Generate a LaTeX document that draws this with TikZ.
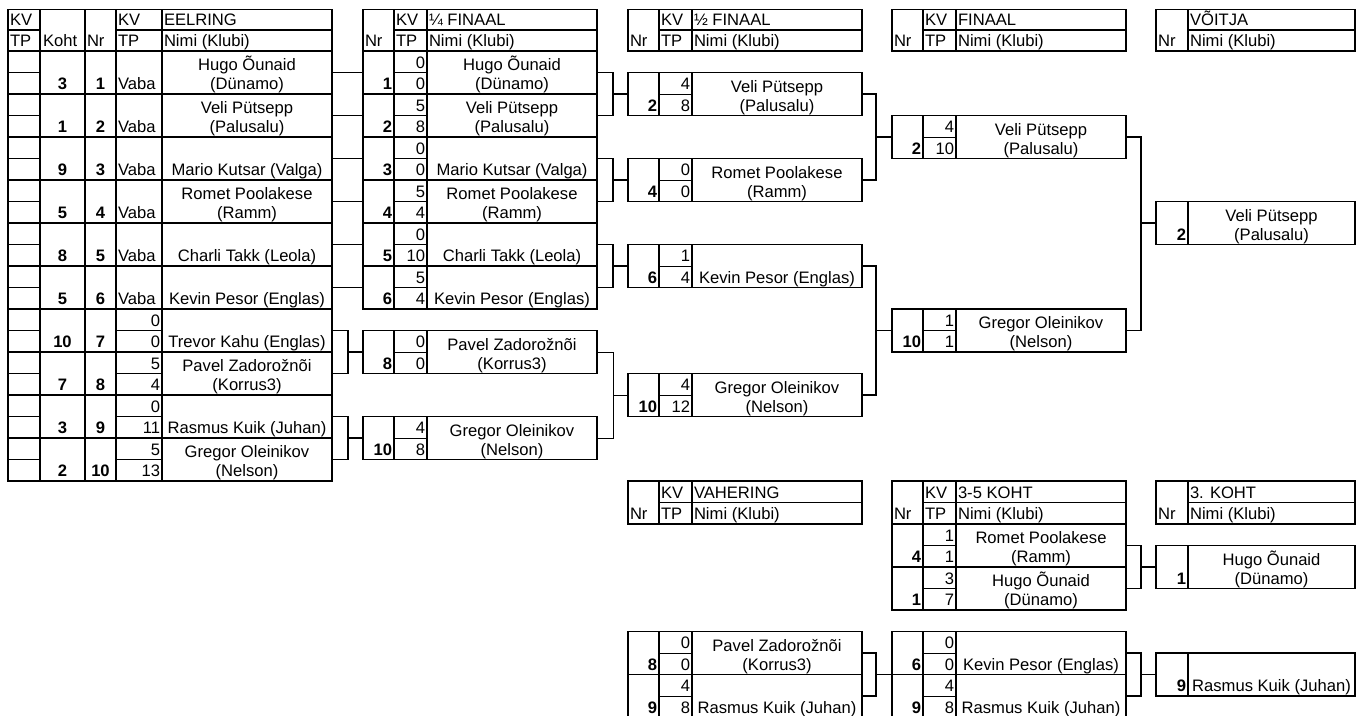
\documentclass[tikz,border=0pt]{standalone}
\usepackage{fontspec}
\setmainfont{Liberation Sans}
\newcommand{\fs}{\fontsize{16.6}{19}\selectfont}
\tikzset{
  box/.style={draw, line width=1.6pt, inner sep=0pt, outer sep=0pt, rectangle},
  bold line/.style={line width=1.6pt},
  fine line/.style={line width=0.8pt},
  txt/.style={inner sep=0pt, outer sep=0pt, anchor=base, font=\fs},
  lt/.style={txt, anchor=base west},
  rt/.style={txt, anchor=base east},
  num/.style={txt, font=\fs\bfseries},
  numr/.style={rt, font=\fs\bfseries},
  link/.style={line width=1.6pt},
  thinlink/.style={line width=0.9pt},
}
% name text, bottom aligned
\newcommand{\nametext}[5]{%
  \if\relax\detokenize{#5}\relax
    \node[txt] (#1-n) at (#2,#3-4.5) {#4};
  \else
    \node[txt] (#1-n1) at (#2,#3-23.5) {#4};
    \node[txt] (#1-n2) at (#2,#3-4.5) {#5};
  \fi}
% Nr | KV/TP | name entry
\newcommand{\fourentry}[8]{%
  \pgfmathsetmacro{\xa}{#2}\pgfmathsetmacro{\xb}{#2+31}%
  \pgfmathsetmacro{\xc}{#2+64}\pgfmathsetmacro{\xn}{#2+149}%
  \pgfmathsetmacro{\yt}{51+21.5*#3}\pgfmathsetmacro{\ym}{\yt+21.5}\pgfmathsetmacro{\yb}{\yt+43}%
  \node[box, minimum width=234pt, minimum height=43pt, anchor=north west] (#1) at (\xa,\yt) {};
  \draw[bold line] (\xb,\yt) -- (\xb,\yb) (\xc,\yt) -- (\xc,\yb);
  \draw[fine line] (\xb,\ym) -- (\xc,\ym);
  \node[numr] (#1-nr) at (\xb-2,\yb-4.5) {#4};
  \node[rt] (#1-kv) at (\xc-2,\ym-4.5) {#5};
  \node[rt] (#1-tp) at (\xc-2,\yb-4.5) {#6};
  \nametext{#1}{\xn}{\yb}{#7}{#8}}
% EELRING entry
\newcommand{\eeentry}[8]{%
  \pgfmathsetmacro{\yt}{51+21.5*#2}\pgfmathsetmacro{\ym}{\yt+21.5}\pgfmathsetmacro{\yb}{\yt+43}%
  \node[box, minimum width=324pt, minimum height=43pt, anchor=north west] (#1) at (8,\yt) {};
  \draw[bold line] (40,\yt) -- (40,\yb) (85,\yt) -- (85,\yb) (116,\yt) -- (116,\yb)
     (162,\yt) -- (162,\yb) (8,\ym) -- (40,\ym);
  \node[num] (#1-koht) at (62.5,\yb-4.5) {#3};
  \node[num] (#1-nr) at (100.5,\yb-4.5) {#4};
  \if\relax\detokenize{#5}\relax
    \node[lt] (#1-kv) at (118,\yb-4.5) {#6};
  \else
    \draw[fine line] (116,\ym) -- (162,\ym);
    \node[rt] (#1-kv) at (160,\ym-4.5) {#5};
    \node[rt] (#1-tp) at (160,\yb-4.5) {#6};
  \fi
  \nametext{#1}{247}{\yb}{#7}{#8}}
% Nr | name entry
\newcommand{\twoentry}[5]{%
  \pgfmathsetmacro{\yt}{51+21.5*#2}\pgfmathsetmacro{\yb}{\yt+43}%
  \node[box, minimum width=199pt, minimum height=43pt, anchor=north west] (#1) at (1156,\yt) {};
  \draw[bold line] (1188,\yt) -- (1188,\yb);
  \node[numr] (#1-nr) at (1186,\yb-4.5) {#3};
  \nametext{#1}{1271.5}{\yb}{#4}{#5}}
% headers
\newcommand{\fourhead}[5]{%
  \pgfmathsetmacro{\xb}{#2+31}\pgfmathsetmacro{\xc}{#2+64}\pgfmathsetmacro{\xd}{#2+234}%
  \pgfmathsetmacro{\ym}{(#3+#4)/2}\pgfmathsetmacro{\hh}{#4-#3}%
  \node[box, minimum width=234pt, minimum height=\hh pt, anchor=north west] (#1) at (#2,#3) {};
  \draw[bold line] (\xb,#3) -- (\xb,#4) (\xc,#3) -- (\xc,#4) (\xb,\ym) -- (\xd,\ym);
  \node[lt] (#1-nr) at (#2+2,#4-4.5) {Nr};
  \node[lt] (#1-kv) at (\xb+2,\ym-4.5) {KV};
  \node[lt] (#1-tp) at (\xb+2,#4-4.5) {TP};
  \node[lt] (#1-t) at (\xc+2,\ym-4.5) {#5};
  \node[lt] (#1-nm) at (\xc+2,#4-4.5) {Nimi (Klubi)};}
\newcommand{\twohead}[4]{%
  \pgfmathsetmacro{\ym}{(#2+#3)/2}\pgfmathsetmacro{\hh}{#3-#2}%
  \node[box, minimum width=199pt, minimum height=\hh pt, anchor=north west] (#1) at (1156,#2) {};
  \draw[bold line] (1188,#2) -- (1188,#3) (1188,\ym) -- (1355,\ym);
  \node[lt] (#1-nr) at (1158,#3-4.5) {Nr};
  \node[lt] (#1-t) at (1190,\ym-4.5) {#4};
  \node[lt] (#1-nm) at (1190,#3-4.5) {Nimi (Klubi)};}
\begin{document}
\begin{tikzpicture}[x=1pt,y=-1pt]
\clip (0,0) rectangle (1356,715);
\fill[white] (0,0) rectangle (1356,715);
% ---------- EELRING header
\node[box, minimum width=324pt, minimum height=41.5pt, anchor=north west] (eeh) at (8,9.5) {};
\draw[bold line] (40,9.5) -- (40,51) (85,9.5) -- (85,51) (116,9.5) -- (116,51) (162,9.5) -- (162,51)
  (8,30.25) -- (40,30.25) (116,30.25) -- (332,30.25);
\node[lt] (eeh-kv1) at (10,25.75) {KV};
\node[lt] (eeh-tp1) at (10,46.5) {TP};
\node[lt] (eeh-koht) at (43,46.5) {Koht};
\node[lt] (eeh-nr) at (87,46.5) {Nr};
\node[lt] (eeh-kv) at (118,25.75) {KV};
\node[lt] (eeh-tp) at (118,46.5) {TP};
\node[lt] (eeh-t) at (164,25.75) {EELRING};
\node[lt] (eeh-nm) at (164,46.5) {Nimi (Klubi)};
% ---------- EELRING entries
\eeentry{ee1}{0}{3}{1}{}{Vaba}{Hugo Õunaid}{(Dünamo)}
\eeentry{ee2}{2}{1}{2}{}{Vaba}{Veli Pütsepp}{(Palusalu)}
\eeentry{ee3}{4}{9}{3}{}{Vaba}{Mario Kutsar (Valga)}{}
\eeentry{ee4}{6}{5}{4}{}{Vaba}{Romet Poolakese}{(Ramm)}
\eeentry{ee5}{8}{8}{5}{}{Vaba}{Charli Takk (Leola)}{}
\eeentry{ee6}{10}{5}{6}{}{Vaba}{Kevin Pesor (Englas)}{}
\eeentry{ee7}{12}{10}{7}{0}{0}{Trevor Kahu (Englas)}{}
\eeentry{ee8}{14}{7}{8}{5}{4}{Pavel Zadorožnõi}{(Korrus3)}
\eeentry{ee9}{16}{3}{9}{0}{11}{Rasmus Kuik (Juhan)}{}
\eeentry{ee10}{18}{2}{10}{5}{13}{Gregor Oleinikov}{(Nelson)}
% ---------- quarter final
\fourhead{qfh}{363}{9.5}{51}{¼ FINAAL}
\fourentry{qf1}{363}{0}{1}{0}{0}{Hugo Õunaid}{(Dünamo)}
\fourentry{qf2}{363}{2}{2}{5}{8}{Veli Pütsepp}{(Palusalu)}
\fourentry{qf3}{363}{4}{3}{0}{0}{Mario Kutsar (Valga)}{}
\fourentry{qf4}{363}{6}{4}{5}{4}{Romet Poolakese}{(Ramm)}
\fourentry{qf5}{363}{8}{5}{0}{10}{Charli Takk (Leola)}{}
\fourentry{qf6}{363}{10}{6}{5}{4}{Kevin Pesor (Englas)}{}
\fourentry{qf8}{363}{13}{8}{0}{0}{Pavel Zadorožnõi}{(Korrus3)}
\fourentry{qf10}{363}{17}{10}{4}{8}{Gregor Oleinikov}{(Nelson)}
% ---------- semi final
\fourhead{sfh}{628}{9.5}{51}{½ FINAAL}
\fourentry{sf2}{628}{1}{2}{4}{8}{Veli Pütsepp}{(Palusalu)}
\fourentry{sf4}{628}{5}{4}{0}{0}{Romet Poolakese}{(Ramm)}
\fourentry{sf6}{628}{9}{6}{1}{4}{Kevin Pesor (Englas)}{}
\fourentry{sf10}{628}{15}{10}{4}{12}{Gregor Oleinikov}{(Nelson)}
% ---------- final
\fourhead{finh}{892}{9.5}{51}{FINAAL}
\fourentry{fin2}{892}{3}{2}{4}{10}{Veli Pütsepp}{(Palusalu)}
\fourentry{fin10}{892}{12}{10}{1}{1}{Gregor Oleinikov}{(Nelson)}
% ---------- winner
\twohead{winh}{9.5}{51}{VÕITJA}
\twoentry{win}{7}{2}{Veli Pütsepp}{(Palusalu)}
% ---------- vahering
\fourhead{vh}{628}{481}{524}{VAHERING}
\fourentry{v8}{628}{27}{8}{0}{0}{Pavel Zadorožnõi}{(Korrus3)}
\fourentry{v9}{628}{29}{9}{4}{8}{Rasmus Kuik (Juhan)}{}
% ---------- 3-5 koht
\fourhead{kh}{892}{481}{524}{3-5 KOHT}
\fourentry{k4}{892}{22}{4}{1}{1}{Romet Poolakese}{(Ramm)}
\fourentry{k1}{892}{24}{1}{3}{7}{Hugo Õunaid}{(Dünamo)}
\fourentry{k6}{892}{27}{6}{0}{0}{Kevin Pesor (Englas)}{}
\fourentry{k9}{892}{29}{9}{4}{8}{Rasmus Kuik (Juhan)}{}
% ---------- 3. koht
\twohead{th}{481}{524}{3. KOHT}
\twoentry{t1}{23}{1}{Hugo Õunaid}{(Dünamo)}
\twoentry{t9}{28}{9}{Rasmus Kuik (Juhan)}{}
% ---------- connectors
\foreach \i in {1,...,6}{\draw[link] (ee\i.east) -- (qf\i.west);}
\draw[link] (ee7.east) -- ++(16,0) |- (ee8.east);
\draw[link] (qf8.west) -- ++(-15,0);
\draw[link] (ee9.east) -- ++(16,0) |- (ee10.east);
\draw[link] (qf10.west) -- ++(-15,0);
\draw[link] (qf1.east) -- ++(16,0) |- (qf2.east);
\draw[link] (sf2.west) -- ++(-15,0);
\draw[link] (qf3.east) -- ++(16,0) |- (qf4.east);
\draw[link] (sf4.west) -- ++(-15,0);
\draw[link] (qf5.east) -- ++(16,0) |- (qf6.east);
\draw[link] (sf6.west) -- ++(-15,0);
\draw[thinlink] (qf8.east) -- ++(16,0) |- (qf10.east);
\draw[thinlink] (sf10.west) -- ++(-15,0);
\draw[link] (sf2.east) -- ++(14,0) |- (sf4.east);
\draw[link] (fin2.west) -- ++(-16,0);
\draw[link] (sf6.east) -- ++(14,0) |- (sf10.east);
\draw[link] (fin10.west) -- ++(-16,0);
\draw[link] (fin2.east) -- ++(15,0) |- (fin10.east);
\draw[link] (win.west) -- ++(-15,0);
\draw[link] (v8.east) -- ++(14,0) |- (v9.east);
\draw[link] (k9.north west) -- ++(-16,0);
\draw[link] (k4.east) -- ++(15,0) |- (k1.east);
\draw[link] (t1.west) -- ++(-15,0);
\draw[link] (k6.east) -- ++(15,0) |- (k9.east);
\draw[link] (t9.west) -- ++(-15,0);
\end{tikzpicture}
\end{document}
